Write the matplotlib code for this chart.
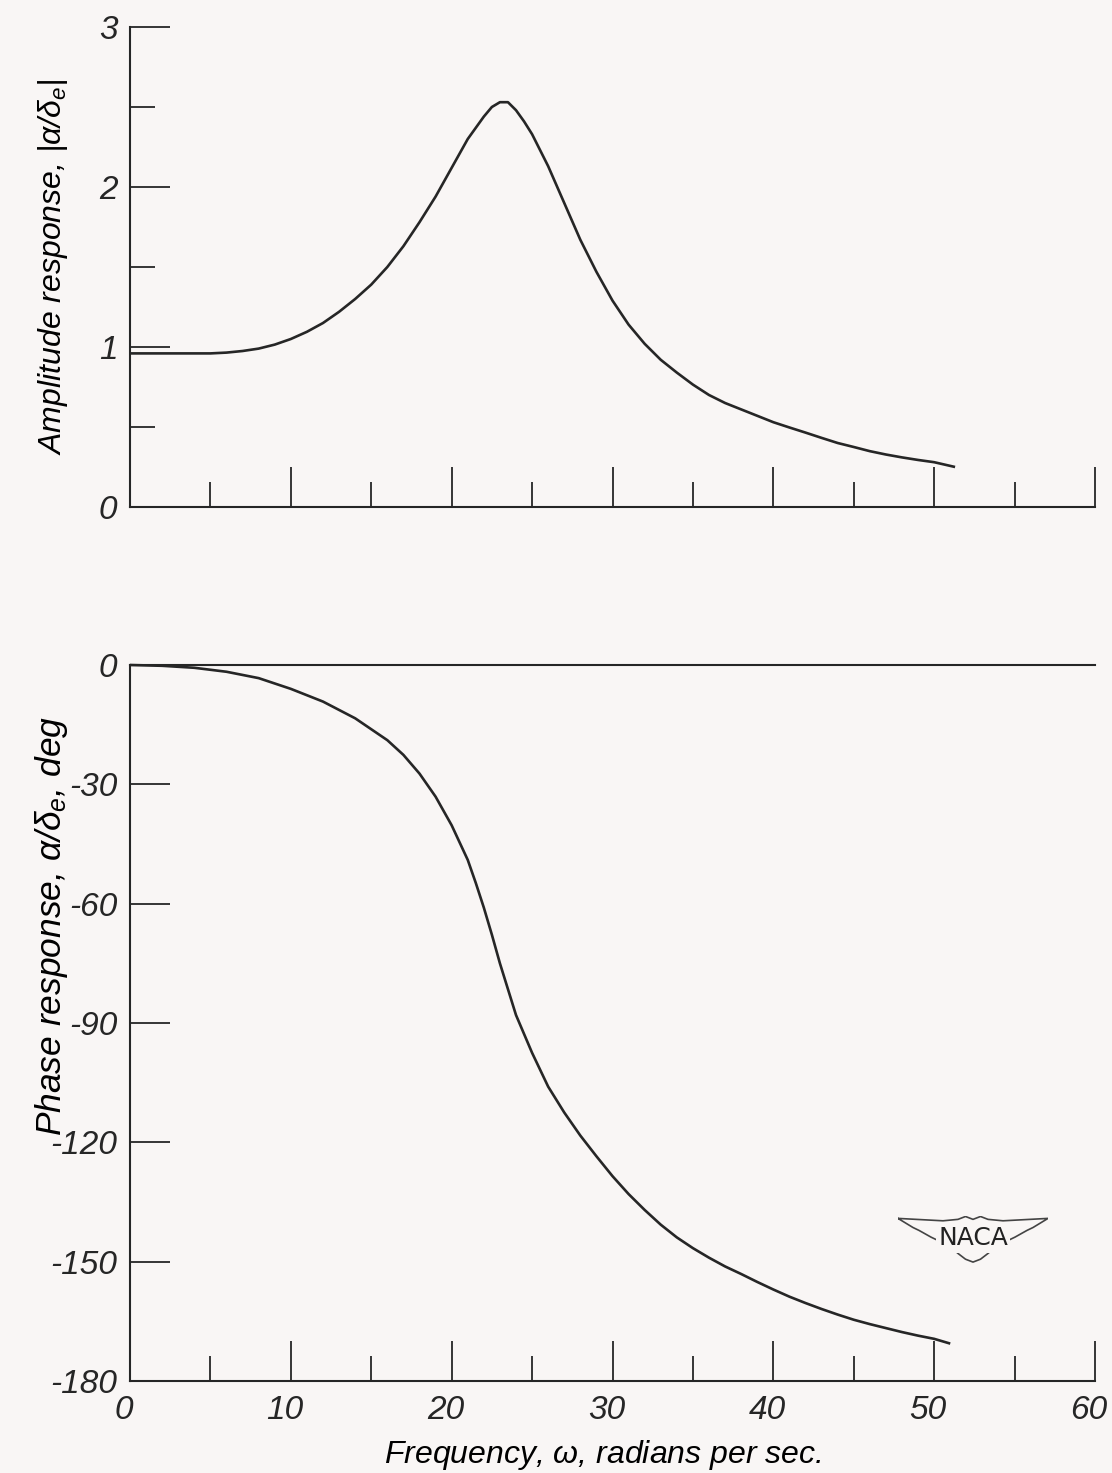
import numpy as np
import matplotlib; matplotlib.use('Agg')
import matplotlib.pyplot as plt
import matplotlib.transforms as mtransforms
from matplotlib.ticker import MultipleLocator, NullFormatter

# frequency (rad/sec) and amplitude ratio |alpha/delta_e|
amp_freq = [0, 2, 4, 5, 6, 7, 8, 9, 10, 11, 12, 13, 14, 15, 16, 17, 18, 19, 20, 21, 22,
            22.5, 23, 23.5, 24, 24.5, 25, 26, 27, 28, 29, 30, 31, 32, 33, 34, 35, 36, 37,
            38, 39, 40, 41, 42, 43, 44, 45, 46, 47, 48, 49, 50, 51.3]
amp_vals = [0.96, 0.96, 0.96, 0.96, 0.965, 0.975, 0.99, 1.015, 1.05, 1.095, 1.15, 1.22,
            1.30, 1.39, 1.50, 1.63, 1.78, 1.94, 2.12, 2.30, 2.44, 2.50, 2.53, 2.53, 2.48,
            2.41, 2.33, 2.13, 1.90, 1.67, 1.47, 1.29, 1.14, 1.02, 0.92, 0.84, 0.765, 0.70,
            0.65, 0.61, 0.57, 0.53, 0.497, 0.465, 0.432, 0.40, 0.375, 0.349, 0.328, 0.31,
            0.294, 0.28, 0.25]

# phase angle (deg)
ph_freq = [0, 2, 4, 6, 8, 10, 12, 14, 16, 17, 18, 19, 20, 21, 21.5, 22, 22.5, 23, 23.5,
           24, 25, 26, 27, 28, 29, 30, 31, 32, 33, 34, 35, 36, 37, 38, 39, 40, 41, 42, 43,
           44, 45, 46, 47, 48, 49, 50, 51]
ph_vals = [0, -0.2, -0.7, -1.7, -3.3, -6.0, -9.2, -13.4, -18.9, -22.6, -27.3, -33.1, -40.3,
           -49.0, -54.8, -61, -67.8, -75, -81.5, -88, -97.5, -106, -112.5, -118.3, -123.5,
           -128.5, -133, -137, -140.7, -143.9, -146.6, -149, -151.2, -153.1, -155.1, -157,
           -158.8, -160.4, -161.9, -163.3, -164.6, -165.7, -166.7, -167.7, -168.6, -169.4,
           -170.6]

x_major = [0, 10, 20, 30, 40, 50, 60]
amp_ticks = [0, 1, 2, 3]
ph_ticks = [0, -30, -60, -90, -120, -150, -180]

INK = '#262626'
BG = '#f9f6f5'
FONT = ['Liberation Sans', 'DejaVu Sans']

plt.rcParams['font.family'] = FONT
plt.rcParams['font.style'] = 'italic'
plt.rcParams['mathtext.fontset'] = 'custom'
plt.rcParams['mathtext.it'] = 'Liberation Sans:italic'
plt.rcParams['mathtext.rm'] = 'Liberation Sans:italic'
plt.rcParams['text.color'] = INK

fig = plt.figure(figsize=(11.12, 14.73), dpi=100, facecolor=BG)
W, H = 1112, 1473

def px_axes(x0, x1, ytop, ybot):
    return fig.add_axes([x0 / W, 1 - ybot / H, (x1 - x0) / W, (ybot - ytop) / H])

ax1 = px_axes(130, 1095, 27, 507)
ax2 = px_axes(130, 1095, 665, 1381)

def style(ax):
    ax.set_facecolor('none')
    for s in ax.spines.values():
        s.set_color(INK); s.set_linewidth(1.5)
    ax.spines['right'].set_visible(False)
    ax.set_xlim(0, 60)
    ax.xaxis.set_major_locator(MultipleLocator(10))
    ax.xaxis.set_minor_locator(MultipleLocator(5))
    ax.tick_params(axis='both', which='major', direction='in', length=29, width=1.3,
                   color=INK, labelsize=24, labelcolor=INK)
    ax.tick_params(axis='both', which='minor', direction='in', length=18, width=1.3,
                   color=INK)
    ax.tick_params(axis='y', pad=9)
    ax.tick_params(axis='x', pad=10)

style(ax1)
ax1.spines['top'].set_visible(False)
ax1.set_ylim(0, 3)
ax1.set_yticks(amp_ticks)
ax1.yaxis.set_minor_locator(MultipleLocator(0.5))
ax1.xaxis.set_major_formatter(NullFormatter())
ax1.plot(amp_freq, amp_vals, color=INK, lw=1.9, solid_capstyle='butt',
         solid_joinstyle='round', clip_on=False)
ax1.set_ylabel(r'Amplitude response, $|\alpha/\delta_e|$', fontsize=23)
ax1.yaxis.set_label_coords(-0.062, 0.5)

style(ax2)
ax2.set_ylim(-180, 0)
ax2.set_yticks(ph_ticks)
ax2.set_xticks(x_major)
ax2.set_yticklabels([str(v) for v in ph_ticks])
ax2.plot(ph_freq, ph_vals, color=INK, lw=1.9, solid_capstyle='butt',
         solid_joinstyle='round', clip_on=False)
ax2.set_ylabel(r'Phase response, $\alpha/\delta_e$, deg', fontsize=25.5)
ax2.yaxis.set_label_coords(-0.062, 0.635)
ax2.set_xlabel(r'Frequency, $\omega$, radians per sec.', fontsize=23)
ax2.xaxis.set_label_coords(0.49, -0.08)

# italic lettering sits a little left of each tick
shift = mtransforms.ScaledTranslation(-6 / 100, 0, fig.dpi_scale_trans)
for lbl in ax2.get_xticklabels():
    lbl.set_transform(lbl.get_transform() + shift)

# NACA wings logo
lg = fig.add_axes([898 / W, 1 - 1264 / H, 150 / W, 48 / H])
lg.set_xlim(0, 1); lg.set_ylim(0, 1); lg.axis('off')
top_x = [0.0, 0.30, 0.40, 0.45, 0.5, 0.55, 0.60, 0.70, 1.0]
top_y = [0.95, 0.90, 0.93, 0.99, 0.93, 0.99, 0.93, 0.90, 0.95]
bot_x = [1.0, 0.90, 0.86, 0.78, 0.74, 0.66, 0.60, 0.55, 0.5, 0.45, 0.40, 0.34, 0.26,
         0.22, 0.14, 0.10, 0.0]
bot_y = [0.95, 0.76, 0.70, 0.56, 0.50, 0.38, 0.22, 0.10, 0.04, 0.10, 0.22, 0.38, 0.50,
         0.56, 0.70, 0.76, 0.95]
lg.plot(top_x + bot_x, top_y + bot_y, color='#444444', lw=1.2)
lg.text(0.5, 0.54, 'NACA', ha='center', va='center', fontsize=18, style='normal',
        family='DejaVu Sans', color='#222222',
        bbox=dict(boxstyle='square,pad=0.1', fc=BG, ec='none'))

fig.savefig('out.png', dpi=100, facecolor=BG)
